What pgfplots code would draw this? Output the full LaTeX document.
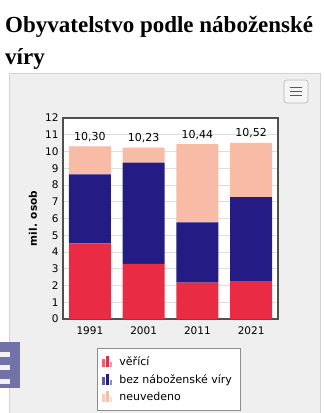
\documentclass[border=0pt]{standalone}
\usepackage{pgfplots}
\usepackage{pgfplotstable}
\pgfplotsset{compat=1.18}
\usepackage{fontspec}
\setmainfont{DejaVu Sans}
\newfontfamily\titlefont{Liberation Serif}
\definecolor{cred}{HTML}{E92B43}
\definecolor{cnavy}{HTML}{241B85}
\definecolor{cpeach}{HTML}{F8BBA6}
\definecolor{panelbg}{HTML}{EFEFEF}
\definecolor{panelbd}{HTML}{D2D2D2}
\definecolor{framec}{HTML}{505050}
\definecolor{gridc}{HTML}{DDDDDD}
\definecolor{ovcol}{HTML}{7272A8}

\pgfplotstableread{
x veri bez neuv total lab
0 4.52 4.11 1.67 10.30 10,30
1 3.29 6.04 0.90 10.23 10,23
2 2.17 3.60 4.67 10.44 10,44
3 2.26 5.01 3.25 10.52 10,52
}\datatab

\pgfplotsset{common/.style={
  at={(63pt,94pt)}, anchor=south west,
  scale only axis, width=215pt, height=201pt,
  xmin=-0.5, xmax=3.5, ymin=0, ymax=12}}

\begin{document}
\begin{tikzpicture}
\fill[white] (0pt,0pt) rectangle (324pt,413pt);
\useasboundingbox (0pt,0pt) rectangle (324pt,413pt);
% panel
\filldraw[fill=panelbg, draw=panelbd, line width=0.8pt] (9pt,-2pt) rectangle (320pt,340pt);
% title
\node[anchor=base west, inner sep=0pt, font=\titlefont\bfseries\fontsize{23}{26}\selectfont] at (5pt,380pt) {Obyvatelstvo podle náboženské};
\node[anchor=base west, inner sep=0pt, font=\titlefont\bfseries\fontsize{23}{26}\selectfont] at (5pt,348pt) {víry};
% menu button
\filldraw[fill=white!96!black, draw=gray!55, line width=0.7pt, rounded corners=3pt] (284pt,310pt) rectangle (308pt,333pt);
\foreach \yy in {317.5,321.5,325.5} {\draw[gray!70!black, line width=0.8pt] (290pt,\yy pt) -- (302pt,\yy pt);}
% left page overlay
\fill[ovcol] (0pt,25pt) rectangle (20pt,71pt);
\foreach \yy in {56,42.5,29} {\fill[white!90!ovcol] (0pt,\yy pt) rectangle (10pt,\yy pt+5pt);}
\begin{axis}[
  common,
  ybar stacked, bar width=42pt,
  ytick={0,1,...,12},
  xtick={0,1,2,3}, xticklabels={1991,2001,2011,2021},
  major tick length=0pt,
  /pgf/number format/assume math mode=true,
  tick label style={font=\fontsize{10.5}{12}\selectfont},
  yticklabel style={xshift=-1pt},
  xticklabel style={yshift=-4pt},
  ylabel={\textbf{mil. osob}},
  ylabel style={font=\fontsize{10.5}{12}\selectfont, at={(axis description cs:-0.14,0.5)}, anchor=center},
  ymajorgrids, grid style={gridc, line width=0.8pt},
  axis line style={framec, line width=1.3pt},
  axis background/.style={fill=white},
  legend style={at={(axis description cs:0.158,-0.144)}, anchor=north west,
    draw=gray!90, line width=0.6pt, fill=white, font=\fontsize{11}{12}\selectfont,
    inner xsep=5pt, inner ysep=6.5pt, row sep=3.5pt,
    /tikz/every odd column/.append style={column sep=5pt}},
  legend cell align=left,
  legend image code/.code={
    \fill[#1, opacity=0.75] (0pt,-5pt) rectangle (2.8pt,3pt);
    \fill[#1] (3.7pt,-5pt) rectangle (6.5pt,6pt);
    \fill[#1, opacity=0.5] (7.4pt,-5pt) rectangle (10.2pt,0pt);
  },
]
\addplot[fill=cred, draw=none] table[x=x, y=veri] {\datatab};
\addplot[fill=cnavy, draw=none] table[x=x, y=bez] {\datatab};
\addplot[fill=cpeach, draw=none] table[x=x, y=neuv] {\datatab};
\legend{\makebox[114pt][l]{věřící},\makebox[114pt][l]{bez náboženské víry},\makebox[114pt][l]{neuvedeno}}
\end{axis}
\begin{axis}[common, hide axis]
\addplot[draw=none, mark=none,
  nodes near coords, point meta=explicit symbolic,
  every node near coord/.append style={font=\fontsize{11}{12}\selectfont, text=black, anchor=south, yshift=1pt}]
  table[x=x, y=total, meta=lab] {\datatab};
\end{axis}
\end{tikzpicture}
\end{document}
